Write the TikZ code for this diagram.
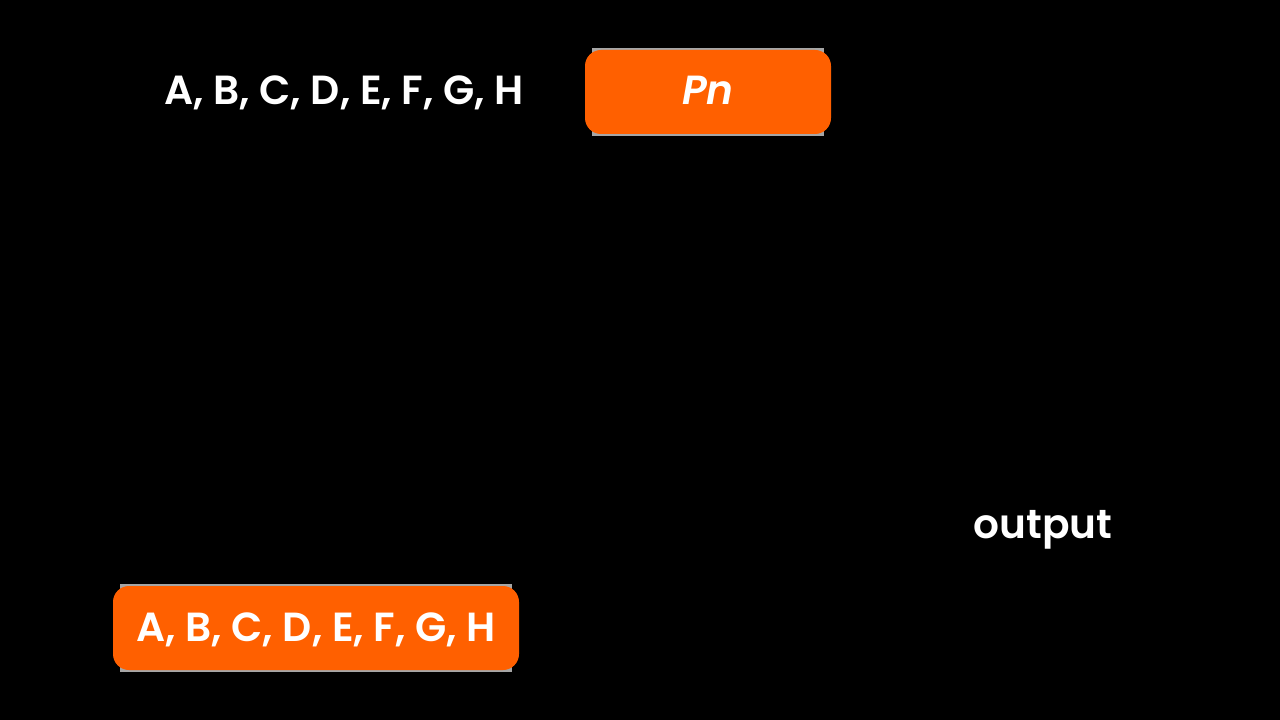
\documentclass[tikz,border=0pt]{standalone}
\usepackage{fontspec}
\setmainfont{Poppins}[BoldFont=* SemiBold, BoldItalicFont=* SemiBold Italic]
\begin{document}
\begin{tikzpicture}[x=0.75pt,y=-0.75pt,
  lbl/.style={text=white,font=\fontsize{30.5}{34}\selectfont\bfseries,inner sep=0pt,anchor=base},
  orangebox/.style={fill=boxorange,rounded corners=12pt,minimum width=#1*0.75pt,minimum height=63pt},
  ghost/.style={fill=gray!70,minimum width=#1*0.75pt,minimum height=66pt,inner sep=0pt}]
\definecolor{boxorange}{HTML}{FF6000}
\fill[black] (0,0) rectangle (1280,720);
\useasboundingbox (0,0) rectangle (1280,720);
% Pn box
\node[ghost=232] (pnbg) at (708,92) {};
\node[orangebox=246] (pnbox) at (708,92) {};
\node[lbl,font=\fontsize{30.5}{34}\selectfont\bfseries\itshape] (pn) at (708,105) {Pn};
% top label
\node[lbl] (inp) at (344,105) {A, B, C, D, E, F, G, H};
% lower box
\node[ghost=392] (outbg) at (316,628) {};
\node[orangebox=406] (outbox) at (316,628) {};
\node[lbl] (outtxt) at (316,641) {A, B, C, D, E, F, G, H};
% output label
\node[lbl] (outlbl) at (1043,538) {output};
\end{tikzpicture}
\end{document}
